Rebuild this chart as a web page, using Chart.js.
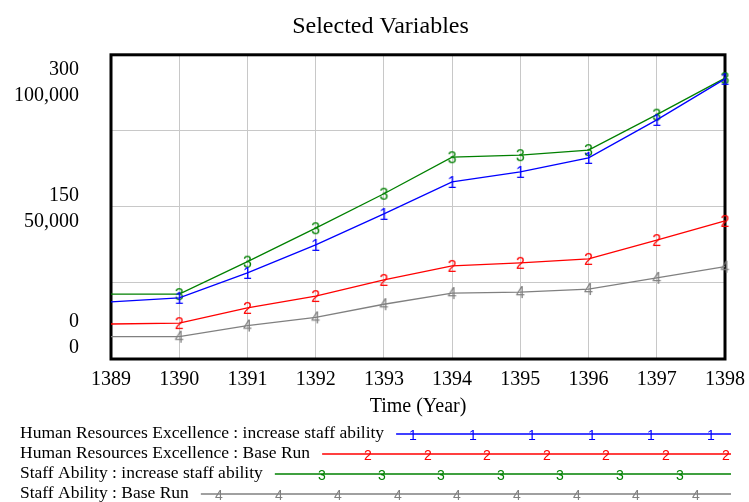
<!DOCTYPE html>
<html>
<head>
<meta charset="utf-8">
<script src="https://cdn.jsdelivr.net/npm/chart.js@4.4.0/dist/chart.umd.min.js"></script>
<style>
  html, body { margin: 0; padding: 0; background: #ffffff; }
  canvas { display: block; }
</style>
</head>
<body>
<canvas id="chart" width="749" height="502"></canvas>
<script>
// ---------- data ----------
const years = ['1389', '1390', '1391', '1392', '1393', '1394', '1395', '1396', '1397', '1398'];
const hrIncrease = [18800, 20100, 28300, 37500, 47700, 58200, 61500, 66100, 78600, 92100];
const hrBase     = [11500, 11800, 16800, 20700, 26000, 30600, 31600, 32900, 39100, 45400];
const saIncrease = [64, 64, 96, 129, 163, 199, 201, 206, 241, 277];
const saBase     = [22, 22, 33, 41, 54, 65, 66, 69, 80, 91];
const seriesNames = [
  'Human Resources Excellence : increase staff ability',
  'Human Resources Excellence : Base Run',
  'Staff Ability : increase staff ability',
  'Staff Ability : Base Run'
];
const seriesMarkers = ['1', '2', '3', '4'];
const staffTickLabels = ['0', '', '150', '', '300'];
const hrTickLabels = ['0', '', '50,000', '', '100,000'];
const staffAxisMax = 300;
const hrAxisMax = 100000;
const titleText = 'Selected Variables';
const xTitleText = 'Time (Year)';

// ---------- styles ----------
const serif = "'Liberation Serif', 'Times New Roman', serif";
const sans = "'Liberation Sans', Arial, sans-serif";
const colors = ['#0000ff', '#ff0000', '#008000', '#808080'];
const gridColor = '#c8c8c8';

function digitCanvas(ch, color, px) {
  const c = document.createElement('canvas');
  let g = c.getContext('2d');
  g.font = px + 'px ' + sans;
  const m = g.measureText(ch);
  const w = Math.ceil(m.width) + 2, h = px + 2;
  c.width = w; c.height = h;
  g = c.getContext('2d');
  g.font = px + 'px ' + sans;
  g.fillStyle = color;
  g.textAlign = 'center';
  g.textBaseline = 'alphabetic';
  const asc = m.actualBoundingBoxAscent, desc = m.actualBoundingBoxDescent;
  g.fillText(ch, w / 2, h / 2 + (asc - desc) / 2);
  return c;
}

const plotMarkers = seriesMarkers.map((d, i) => digitCanvas(d, colors[i], 16));
const legendMarkers = seriesMarkers.map((d, i) => digitCanvas(d, colors[i], 14));

const seriesData = [hrIncrease, hrBase, saIncrease, saBase];
const seriesAxis = ['y2', 'y2', 'y', 'y'];

const datasets = seriesData.map((arr, i) => ({
  label: seriesNames[i],
  data: arr,
  yAxisID: seriesAxis[i],
  borderColor: colors[i],
  backgroundColor: colors[i],
  borderWidth: 1.3,
  fill: false,
  tension: 0,
  clip: false,
  pointStyle: plotMarkers[i],
  pointRadius: ctx => (ctx.dataIndex === 0 ? 0 : 4),
  pointHoverRadius: ctx => (ctx.dataIndex === 0 ? 0 : 4)
}));

// frame around plot area
const framePlugin = {
  id: 'frame',
  beforeDatasetsDraw(chart) {
    const { ctx, chartArea: a } = chart;
    ctx.save();
    ctx.strokeStyle = '#000000';
    ctx.lineWidth = 3;
    ctx.strokeRect(a.left, a.top, a.right - a.left, a.bottom - a.top);
    ctx.restore();
  }
};

// Vensim-style legend drawn below the chart
const legendPlugin = {
  id: 'vensimLegend',
  afterDraw(chart, args, opts) {
    const ctx = chart.ctx;
    ctx.save();
    ctx.font = opts.fontSize + 'px ' + serif;
    ctx.textBaseline = 'middle';
    ctx.textAlign = 'left';
    chart.data.datasets.forEach((ds, i) => {
      const y = opts.rows[i];
      ctx.fillStyle = '#000000';
      ctx.fillText(ds.label, opts.textX, y);
      const x0 = opts.textX + ctx.measureText(ds.label).width + opts.gap;
      ctx.strokeStyle = ds.borderColor;
      ctx.lineWidth = 1.3;
      ctx.beginPath();
      ctx.moveTo(x0, y + 0.5);
      ctx.lineTo(opts.lineEnd, y + 0.5);
      ctx.stroke();
      const mk = legendMarkers[i];
      for (let x = opts.firstMarker[i] - 10 * opts.spacing; x <= opts.lineEnd + 1; x += opts.spacing) {
        if (x < x0 + 8) continue;
        ctx.drawImage(mk, Math.round(x - mk.width / 2), Math.round(y - mk.height / 2 + 1));
      }
    });
    ctx.restore();
  }
};

new Chart(document.getElementById('chart'), {
  type: 'line',
  data: { labels: years, datasets },
  options: {
    responsive: false,
    animation: false,
    devicePixelRatio: 1,
    events: [],
    layout: { padding: { left: 12, right: 0, top: 0, bottom: 83 } },
    plugins: {
      legend: { display: false },
      tooltip: { enabled: false },
      title: {
        display: true,
        text: titleText,
        color: '#000000',
        font: { family: serif, size: 24, weight: 'normal', lineHeight: 1.2 },
        padding: { top: 12, bottom: 14 }
      },
      vensimLegend: {
        rows: [433.5, 453.5, 473.5, 493.5],
        fontSize: 17.5,
        textX: 20,
        gap: 12,
        lineEnd: 731,
        spacing: 59.6,
        firstMarker: [413, 368, 322, 219]
      }
    },
    scales: {
      x: {
        type: 'category',
        offset: false,
        grid: { color: gridColor, lineWidth: 1, drawTicks: false },
        border: { display: false },
        ticks: {
          color: '#000000',
          font: { family: serif, size: 20, lineHeight: 0.35 },
          padding: 17,
          maxRotation: 0,
          autoSkip: false
        },
        title: {
          display: true,
          text: xTitleText,
          color: '#000000',
          font: { family: serif, size: 20, lineHeight: 1.2 },
          padding: { top: 3, bottom: 0 }
        },
        afterFit: scale => { scale.height = 60; scale.paddingLeft = 0; scale.paddingRight = 0; }
      },
      y: {
        position: 'left',
        min: 0,
        max: staffAxisMax,
        grid: { color: gridColor, lineWidth: 1, drawTicks: false },
        border: { display: false },
        ticks: {
          stepSize: staffAxisMax / 4,
          autoSkip: false,
          padding: 32,
          labelOffset: 2,
          color: '#000000',
          font: { family: serif, size: 20, lineHeight: 1.3 },
          callback: (value, index, ticks) => {
            const s = staffTickLabels[index], h = hrTickLabels[index];
            if (!s && !h) return '';
            if (index === 0) return [s, h, '', ''];
            if (index === ticks.length - 1) return ['', '', s, h];
            return [s, h];
          }
        },
        afterFit: scale => { scale.width = 99; scale.paddingTop = 0; scale.paddingBottom = 0; }
      },
      y2: {
        position: 'right',
        min: 0,
        max: hrAxisMax,
        grid: { display: false, drawTicks: false },
        border: { display: false },
        ticks: { display: false, stepSize: hrAxisMax / 4 },
        afterFit: scale => { scale.width = 24; scale.paddingTop = 0; scale.paddingBottom = 0; }
      }
    }
  },
  plugins: [framePlugin, legendPlugin]
});
</script>
</body>
</html>
